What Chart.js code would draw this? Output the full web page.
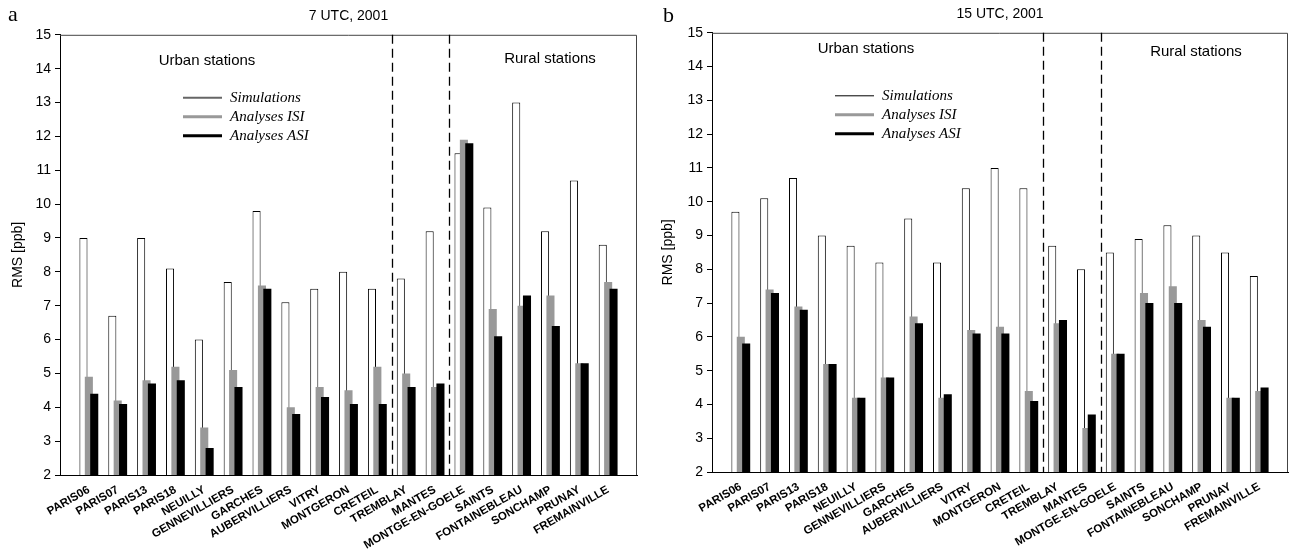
<!DOCTYPE html>
<html>
<head>
<meta charset="utf-8">
<script src="https://cdn.jsdelivr.net/npm/chart.js@4.4.1/dist/chart.umd.min.js"></script>
<style>
  body { margin: 0; background: #fff; }
  #wrap { position: relative; width: 1291px; height: 560px; }
  canvas { position: absolute; top: 0; }
  #chartA { left: 0; }
  #chartB { left: 650px; }
</style>
</head>
<body>
<div id="wrap">
  <canvas id="chartA" width="645" height="560" style="width:645px;height:560px"></canvas>
  <canvas id="chartB" width="641" height="560" style="width:641px;height:560px"></canvas>
</div>
<script>
// stations (urban | suburban | rural)
const stations = ['PARIS06', 'PARIS07', 'PARIS13', 'PARIS18', 'NEUILLY', 'GENNEVILLIERS', 'GARCHES',
  'AUBERVILLIERS', 'VITRY', 'MONTGERON', 'CRETEIL', 'TREMBLAY', 'MANTES', 'MONTGE-EN-GOELE',
  'SAINTS', 'FONTAINEBLEAU', 'SONCHAMP', 'PRUNAY', 'FREMAINVILLE'];
const seriesNames = ['Simulations', 'Analyses ISI', 'Analyses ASI'];

// RMS [ppb], 7 UTC
const sim7 = [9.0, 6.7, 9.0, 8.1, 6.0, 7.7, 9.8, 7.1, 7.5, 8.0, 7.5, 7.8, 9.2, 11.5, 9.9, 13.0, 9.2, 10.7, 8.8];
const isi7 = [4.9, 4.2, 4.8, 5.2, 3.4, 5.1, 7.6, 4.0, 4.6, 4.5, 5.2, 5.0, 4.6, 11.9, 6.9, 7.0, 7.3, 5.3, 7.7];
const asi7 = [4.4, 4.1, 4.7, 4.8, 2.8, 4.6, 7.5, 3.8, 4.3, 4.1, 4.1, 4.6, 4.7, 11.8, 6.1, 7.3, 6.4, 5.3, 7.5];

// RMS [ppb], 15 UTC
const sim15 = [9.7, 10.1, 10.7, 9.0, 8.7, 8.2, 9.5, 8.2, 10.4, 11.0, 10.4, 8.7, 8.0, 8.5, 8.9, 9.3, 9.0, 8.5, 7.8];
const isi15 = [6.0, 7.4, 6.9, 5.2, 4.2, 4.8, 6.6, 4.2, 6.2, 6.3, 4.4, 6.4, 3.3, 5.5, 7.3, 7.5, 6.5, 4.2, 4.4];
const asi15 = [5.8, 7.3, 6.8, 5.2, 4.2, 4.8, 6.4, 4.3, 6.1, 6.1, 4.1, 6.5, 3.7, 5.5, 7.0, 7.0, 6.3, 4.2, 4.5];

// axis
const yMin = 2, yMax = 15;
// dashed separators between station groups (between CRETEIL/TREMBLAY and MANTES/MONTGE-EN-GOELE)
const separators = [10.5, 12.5];

Chart.defaults.font.family = '"Liberation Sans", Arial, Helvetica, sans-serif';
Chart.defaults.color = '#000';

// draw datasets in their order so later bars overlap earlier ones
const drawOrder = {
  id: 'drawOrder',
  beforeDatasetsDraw(chart) {
    const { ctx, chartArea: ca } = chart;
    ctx.save();
    ctx.beginPath();
    ctx.rect(ca.left, ca.top, ca.right - ca.left, ca.bottom - ca.top);
    ctx.clip();
    chart.data.datasets.forEach((ds, i) => chart.getDatasetMeta(i).controller.draw());
    ctx.restore();
    return false;
  }
};

const deco = {
  id: 'deco',
  afterDraw(chart, args, o) {
    const { ctx, chartArea: ca, scales: { x } } = chart;
    ctx.save();
    // frame
    ctx.strokeStyle = '#444';
    ctx.lineWidth = 1;
    ctx.beginPath();
    ctx.moveTo(ca.left, ca.top + 0.5);
    ctx.lineTo(ca.right - 0.5, ca.top + 0.5);
    ctx.lineTo(ca.right - 0.5, ca.bottom);
    ctx.stroke();
    // separators
    ctx.strokeStyle = '#000';
    ctx.lineWidth = 1.3;
    ctx.setLineDash([9, 5]);
    separators.forEach(s => {
      const px = Math.round(x.getPixelForValue(s)) + 0.5;
      ctx.beginPath();
      ctx.moveTo(px, ca.top);
      ctx.lineTo(px, ca.bottom);
      ctx.stroke();
    });
    ctx.setLineDash([]);
    // group labels
    ctx.fillStyle = '#000';
    ctx.font = '15px "Liberation Sans", Arial, sans-serif';
    ctx.textAlign = 'center';
    ctx.textBaseline = 'middle';
    ctx.fillText('Urban stations', ca.left + o.urban[0], ca.top + o.urban[1]);
    ctx.fillText('Rural stations', ca.left + o.rural[0], ca.top + o.rural[1]);
    // legend
    const lineCol = [o.simLine, '#999', '#000'];
    const lineW = [o.simWidth, 3, 3];
    ctx.font = 'italic 15px "Liberation Serif", "Times New Roman", serif';
    ctx.textAlign = 'left';
    seriesNames.forEach((name, i) => {
      const ly = ca.top + 63 + i * 19;
      ctx.strokeStyle = lineCol[i];
      ctx.lineWidth = lineW[i];
      ctx.beginPath();
      ctx.moveTo(ca.left + 123, ly);
      ctx.lineTo(ca.left + 162, ly);
      ctx.stroke();
      ctx.fillText(name, ca.left + 170, ly);
    });
    // panel letter
    ctx.font = '22px "Liberation Serif", "Times New Roman", serif';
    ctx.fillText(o.letter, o.letterPos[0], o.letterPos[1]);
    ctx.restore();
  }
};

function makePanel(id, title, sim, isi, asi, p) {
  const toPts = arr => arr.map((v, i) => ({ x: i, y: v }));
  new Chart(document.getElementById(id), {
    type: 'bar',
    data: {
      datasets: [
        { label: seriesNames[0], data: toPts(sim), backgroundColor: '#fff', borderColor: '#000', borderWidth: 1 },
        { label: seriesNames[1], data: toPts(isi), backgroundColor: '#999', borderWidth: 0 },
        { label: seriesNames[2], data: toPts(asi), backgroundColor: '#000', borderWidth: 0 }
      ]
    },
    options: {
      responsive: false,
      animation: false,
      categoryPercentage: 0.56,
      barPercentage: 1.5,
      layout: { padding: { left: 0, right: p.padRight, top: 0, bottom: 0 } },
      plugins: {
        legend: { display: false },
        tooltip: { enabled: false },
        title: {
          display: true,
          text: title,
          fullSize: false,
          font: { size: 14, weight: 'normal' },
          color: '#000',
          padding: { top: p.titleTop, bottom: 10 }
        },
        deco: p.deco
      },
      scales: {
        x: {
          type: 'linear',
          offset: false,
          min: -1,
          max: stations.length,
          grid: { display: false, drawTicks: false, offset: false },
          border: { display: true, color: '#000', width: 1 },
          ticks: {
            stepSize: 1,
            maxTicksLimit: 100,
            autoSkip: false,
            minRotation: 30,
            maxRotation: 30,
            padding: 8,
            color: '#000',
            font: { size: 11.5, weight: 'bold' },
            callback: v => stations[v] || ''
          },
          afterFit: s => { s.height = p.xHeight; s.paddingLeft = 0; s.paddingRight = 0; }
        },
        y: {
          min: yMin,
          max: yMax,
          grid: { drawOnChartArea: false, drawTicks: true, tickLength: 5, color: '#000' },
          border: { display: true, color: '#000', width: 1 },
          ticks: { stepSize: 1, padding: 4, color: '#000', font: { size: 14 } },
          title: { display: true, text: 'RMS [ppb]', color: '#000', font: { size: 14 }, padding: { top: 10, bottom: 0 } },
          afterFit: s => { s.width = p.yWidth; }
        }
      }
    },
    plugins: [drawOrder, deco]
  });
}

makePanel('chartA', '7 UTC, 2001', sim7, isi7, asi7, {
  padRight: 8, xHeight: 85, yWidth: 60, titleTop: 8,
  deco: { urban: [147, 26], rural: [490, 24], simLine: '#666', simWidth: 2, letter: 'a', letterPos: [8, 15] }
});
makePanel('chartB', '15 UTC, 2001', sim15, isi15, asi15, {
  padRight: 3, xHeight: 88, yWidth: 62, titleTop: 6,
  deco: { urban: [154, 16], rural: [484, 19], simLine: '#000', simWidth: 1, letter: 'b', letterPos: [13, 16] }
});
</script>
</body>
</html>
